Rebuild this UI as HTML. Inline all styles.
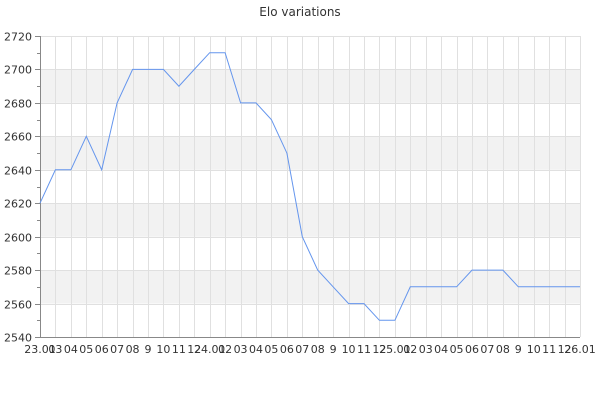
<!DOCTYPE html>
<html><head><style>body{margin:0;background:#fff}</style></head><body>
<svg width="600" height="400" xmlns="http://www.w3.org/2000/svg" font-family="DejaVu Sans, Liberation Sans, sans-serif">
<rect width="600" height="400" fill="#fff"/>
<text x="300" y="16" text-anchor="middle" font-size="12" fill="#333">Elo variations</text>
<g id="bands" fill="#f2f2f2"></g>
<g id="grid" stroke="#e0e0e0" stroke-width="1"></g>
<g id="axis" stroke="#888" stroke-width="1"></g>
<g id="lbl" font-size="11" fill="#333"></g>
<polyline id="line" fill="none" stroke="#6495ed" stroke-width="1"/>
</svg>
<script>
var ns="http://www.w3.org/2000/svg";
function el(p,t,a,txt){var e=document.createElementNS(ns,t);for(var k in a)e.setAttribute(k,a[k]);if(txt!=null)e.textContent=txt;document.getElementById(p).appendChild(e);}
var L=40,R=580,T=36,B=337;
function Y(v){return B-(v-2540)*(B-T)/180;}
var dx=(R-L)/35;
// bands
[2680,2640,2600,2560].forEach(function(v){el('bands','rect',{x:L,y:Y(v+20),width:R-L,height:Y(v)-Y(v+20)});});
for(var i=1;i<=35;i++){var x=Math.round(L+i*dx)+.5;el('grid','line',{x1:x,y1:T,x2:x,y2:B});}
for(var v=2560;v<=2720;v+=20){var y=Math.round(Y(v))+.5;el('grid','line',{x1:L,y1:y,x2:R,y2:y});}
el('axis','line',{x1:L+.5,y1:T,x2:L+.5,y2:B+.5});
el('axis','line',{x1:L,y1:B+.5,x2:R,y2:B+.5});
for(var v=2540;v<=2720;v+=10){var y=Math.round(Y(v))+.5;el('axis','line',{x1:L-(v%20?3:5),y1:y,x2:L,y2:y});
 if(v%20==0)el('lbl','text',{x:L-8,y:y+4,'text-anchor':'end'},v);}
var labs=["23.01","03","04","05","06","07","08","9","10","11","12","24.01","02","03","04","05","06","07","08","9","10","11","12","25.01","02","03","04","05","06","07","08","9","10","11","12","26.01"];
labs.forEach(function(s,i){el('lbl','text',{x:L+i*dx,y:353,'text-anchor':'middle'},s);});
var d=[2620,2640,2640,2660,2640,2680,2700,2700,2700,2690,2700,2710,2710,2680,2680,2670,2650,2600,2580,2570,2560,2560,2550,2550,2570,2570,2570,2570,2580,2580,2580,2570,2570,2570,2570,2570];
document.getElementById('line').setAttribute('points',d.map(function(v,i){return (L+i*dx).toFixed(1)+','+Y(v).toFixed(1);}).join(' '));
</script>
</body></html>
